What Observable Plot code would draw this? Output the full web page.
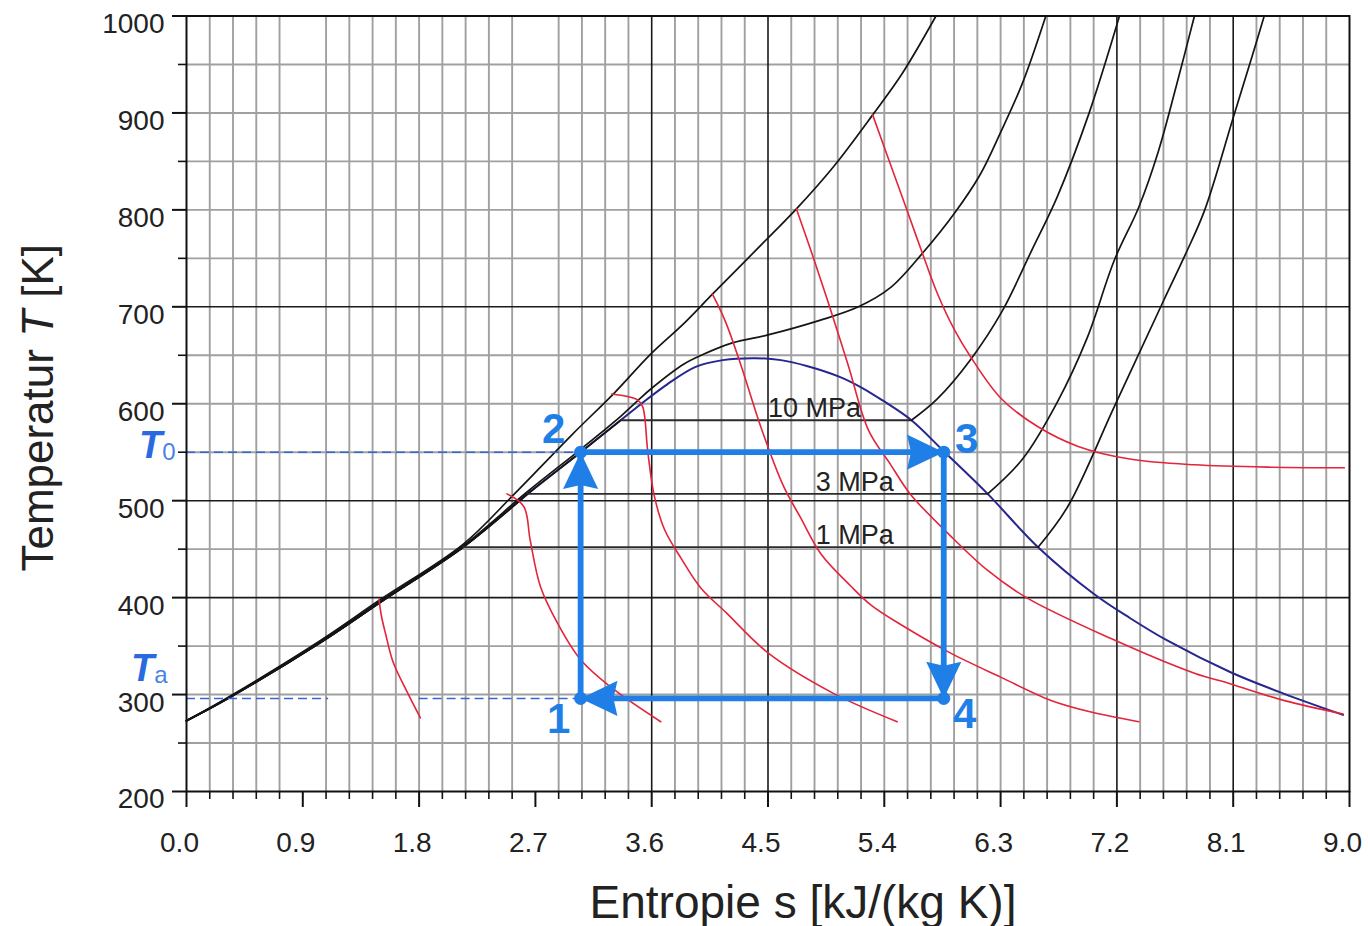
<!DOCTYPE html>
<html>
<head>
<meta charset="utf-8">
<script src="https://cdn.jsdelivr.net/npm/d3@7"></script>
<script src="https://cdn.jsdelivr.net/npm/@observablehq/plot@0.6"></script>
<style>
  html, body { margin: 0; padding: 0; background: #fff; }
  #chart { width: 1368px; height: 926px; }
</style>
</head>
<body>
<div id="chart"></div>
<script>
// T-s diagram of water with a rectangular cycle 1-2-3-4.
// All curve points are [s in kJ/(kg K), T in K].

// Saturation dome
const satLiquid = [[0,273],[0.32,296],[1.04,354],[1.52,397],[2.14,452],[2.64,507],[3.05,550],[3.36,583],[3.52,600],[3.72,620],[3.94,638],[4.15,645],[4.4,647]];
const satVapor = [[4.4,647],[4.6,645],[4.8,639],[5.05,628],[5.22,617],[5.38,604],[5.61,583],[5.86,551],[6.2,507],[6.59,452],[7.02,404],[7.3,379],[7.6,355],[8.08,323],[8.49,301],[8.95,279]];

// Supercritical isobars
const isobarHigh = [[0,273],[0.32,297],[1.04,356],[1.5,398],[2.14,455],[2.53,506],[2.99,569],[3.31,611],[3.59,651],[3.85,683],[4.07,713],[4.5,771],[4.72,801],[5.01,845],[5.31,898],[5.54,941],[5.8,1000]];
const isobarSuper = [[0,273],[0.32,296.5],[1.04,355],[1.52,398],[2.14,453.5],[2.64,509.5],[3.05,553],[3.36,587],[3.49,603],[3.6,616],[3.85,641],[4.0,651],[4.23,663],[4.5,671],[4.9,686],[5.2,700],[5.45,720],[5.7,756],[5.94,796],[6.14,836],[6.3,880],[6.47,931],[6.65,1000]];

// Subcritical isobars: label, saturation temperature, liquid / vapour entropy
const isobarNames = ["10 MPa", "3 MPa", "1 MPa"];
const isobarTsat = [583, 507, 452];
const isobarSliq = [3.36, 2.64, 2.14];
const isobarSvap = [5.61, 6.2, 6.59];
const isobarLabelS = [4.5, 4.87, 4.87];
// Superheated branches of the subcritical isobars
const superheated10 = [[5.61,583],[5.81,605],[6.07,646],[6.31,695],[6.54,758],[6.74,814],[6.98,898],[7.22,1000]];
const superheated3 = [[6.2,507],[6.47,543],[6.74,602],[6.97,668],[7.18,748],[7.37,803],[7.52,860],[7.66,928],[7.8,1000]];
const superheated1 = [[6.59,452],[6.82,494],[7.18,597],[7.56,706],[7.73,754],[7.88,800],[8.1,895],[8.25,960],[8.34,1000]];

// Red property lines, each starting on the highest isobar
const redLine1 = [[1.49,398],[1.51,380],[1.54,363],[1.6,333],[1.71,302],[1.81,276]];
const redLine2 = [[2.48,507],[2.61,494],[2.66,459],[2.74,411],[2.87,374],[3.05,336],[3.31,305],[3.67,272]];
const redLine3 = [[3.29,610],[3.49,604],[3.53,597],[3.57,550],[3.62,505],[3.7,470],[3.83,440],[3.98,410],[4.18,384],[4.5,343],[5.01,301],[5.5,272]];
const redLine4 = [[4.07,713],[4.17,685],[4.29,640],[4.45,574],[4.62,515],[4.75,483],[4.91,445],[5.14,412],[5.3,392],[5.53,372],[5.91,343],[6.3,318],[6.69,294],[7.0,282],[7.37,272]];
const redLine5 = [[4.72,801],[4.84,755],[4.96,707],[5.12,640],[5.28,572],[5.45,537],[5.6,507],[5.91,464],[6.2,428],[6.5,400],[7.15,358],[7.8,322],[8.08,311],[8.49,294],[8.95,280]];
const redLine6 = [[5.31,898],[5.45,846],[5.58,798],[5.69,757],[5.81,714],[5.94,677],[6.07,648],[6.3,606],[6.58,577],[6.9,556],[7.3,543],[7.8,537],[8.4,534.5],[8.96,534]];

// Cycle
const T0 = 550;
const Ta = 296;
const cycleLabels = ["1", "2", "3", "4"];
const cycleS = [3.05, 3.05, 5.86, 5.86];
const cycleT = [Ta, T0, T0, Ta];
const taDashSegments = [[0, 1.1], [1.8, 3.05]];

// Axes and grid
const sTickLabels = d3.range(0, 11).map(i => +(i * 0.9).toFixed(1));
const sMinorTicks = d3.range(0, 51).map(i => +(i * 0.18).toFixed(2));
const sGridDark = [3.6, 4.5, 7.2, 8.1];
const sGridOmitted = [0.9, 2.7];
const tTickLabels = d3.range(200, 1001, 100);
const tMinorTicks = d3.range(250, 1000, 100);
const tGridDark = [400, 500, 700];

const FONT = "'Liberation Sans', Arial, Helvetica, sans-serif";
const BLUE = "#1f7fe6";
const DASH = "#3565d6";
const NAVY = "#26268f";
const RED = "#e3243a";
const INK = "#151515";

const pts = arr => arr.map(([s, T]) => ({s, T}));
const curve = (arr, stroke, strokeWidth = 1.7) =>
  Plot.line(pts(arr), {x: "s", y: "T", curve: "catmull-rom", stroke, strokeWidth, strokeLinejoin: "round"});

const cycle = cycleLabels.map((label, i) => ({label, s: cycleS[i], T: cycleT[i]}));
const legs = cycle.map((p, i) => ({from: p, to: cycle[(i + 1) % cycle.length]}));

// Filled arrowhead whose tip sits on the dot position, pointing along `angle`
function arrowHead(angle) {
  const c = Math.cos(angle), n = Math.sin(angle);
  const rot = (a, b) => [a * c - b * n, a * n + b * c];
  return {
    draw(ctx, size) {
      const r = Math.sqrt(size / Math.PI);
      const L = 4.6 * r, Wd = 2.2 * r, N = 4.1 * r;
      ctx.moveTo(0, 0);
      ctx.lineTo(...rot(-L, Wd));
      ctx.lineTo(...rot(-N, 0));
      ctx.lineTo(...rot(-L, -Wd));
      ctx.closePath();
    }
  };
}

const subcritical = isobarNames.map((name, i) => ({
  name, T: isobarTsat[i], s1: isobarSliq[i], s2: isobarSvap[i], sLabel: isobarLabelS[i]
}));
const liquidBranch = Tsat => satLiquid.filter(([, T]) => T <= Tsat);

const marks = [
  // grid
  Plot.ruleX(sMinorTicks.filter(s => s > 0 && s < 9 && !sGridDark.includes(s) && !sGridOmitted.includes(s)), {stroke: "#a0a0a0", strokeWidth: 1.9}),
  Plot.ruleY(d3.range(250, 1000, 50).filter(t => !tGridDark.includes(t)), {stroke: "#a0a0a0", strokeWidth: 1.9}),
  Plot.ruleX(sGridDark, {stroke: "#1a1a1a", strokeWidth: 1.6}),
  Plot.ruleY(tGridDark, {stroke: "#1a1a1a", strokeWidth: 1.6}),

  // saturation dome
  curve(satLiquid.concat(satVapor.slice(1)), NAVY, 2),

  // isobars
  curve(isobarHigh, INK),
  curve(isobarSuper, INK),
  ...subcritical.map(d => curve(liquidBranch(d.T), INK)),
  Plot.ruleY(subcritical, {y: "T", x1: "s1", x2: "s2", stroke: "#2b2b2b", strokeWidth: 1.8}),
  curve(superheated10, INK),
  curve(superheated3, INK),
  curve(superheated1, INK),
  Plot.text(subcritical, {x: "sLabel", y: "T", text: "name", textAnchor: "start", lineAnchor: "bottom", dy: -3, fontSize: 27, fill: "#222"}),

  // red property lines
  ...[redLine1, redLine2, redLine3, redLine4, redLine5, redLine6].map(r => curve(r, RED, 1.6)),

  // reference temperatures
  Plot.ruleY([T0], {x1: 0, x2: cycleS[1], stroke: DASH, strokeWidth: 1.6, strokeDasharray: "9,5"}),
  Plot.ruleY(taDashSegments, {y: () => Ta, x1: d => d[0], x2: d => d[1], stroke: DASH, strokeWidth: 1.6, strokeDasharray: "9,5"}),
  Plot.text(["T0"], {x: () => 0, y: () => T0, text: d => d, textAnchor: "end", lineAnchor: "bottom", dx: -11, dy: 6, fill: "#2a6ae0", fontSize: 38}),
  Plot.text(["Ta"], {x: () => 0, y: () => Ta, text: d => d, textAnchor: "end", lineAnchor: "bottom", dx: -19, dy: -17, fill: "#2a6ae0", fontSize: 38}),

  // cycle
  Plot.line(cycle.concat([cycle[0]]), {x: "s", y: "T", stroke: BLUE, strokeWidth: 5.8, strokeLinejoin: "miter"}),
  ...legs.map(l => Plot.dot([l.to], {
    x: "s", y: "T", r: 8, fill: BLUE,
    symbol: arrowHead(Math.atan2(-(l.to.T - l.from.T), l.to.s - l.from.s))
  })),
  Plot.dot(cycle, {x: "s", y: "T", r: 6.5, fill: BLUE}),
  Plot.text([cycle[0]], {x: "s", y: "T", text: "label", dx: -22, dy: 35, lineAnchor: "bottom", fontSize: 42, fontWeight: "bold", fill: BLUE}),
  Plot.text([cycle[1]], {x: "s", y: "T", text: "label", dx: -27, dy: -9, lineAnchor: "bottom", fontSize: 42, fontWeight: "bold", fill: BLUE}),
  Plot.text([cycle[2]], {x: "s", y: "T", text: "label", dx: 23, dy: 1, lineAnchor: "bottom", fontSize: 42, fontWeight: "bold", fill: BLUE}),
  Plot.text([cycle[3]], {x: "s", y: "T", text: "label", dx: 21, dy: 30, lineAnchor: "bottom", fontSize: 42, fontWeight: "bold", fill: BLUE}),

  // frame and axes
  Plot.frame({stroke: "#111", strokeWidth: 2}),
  Plot.axisY({ticks: tTickLabels, tickSize: 14, fill: "none", stroke: "#111", strokeWidth: 2, label: null}),
  Plot.axisY({ticks: tMinorTicks, tickSize: 8, fill: "none", stroke: "#111", strokeWidth: 1.6, label: null}),
  Plot.axisY({ticks: tTickLabels, tickSize: 0, tickPadding: 22, dy: 8, tickFormat: "d", fontSize: 28, fill: "#222", label: null}),
  Plot.axisX({ticks: sTickLabels, tickSize: 16, fill: "none", stroke: "#111", strokeWidth: 2, label: null}),
  Plot.axisX({ticks: sMinorTicks.filter(s => !sTickLabels.includes(s)), tickSize: 8, fill: "none", stroke: "#111", strokeWidth: 1.6, label: null}),
  Plot.axisX({ticks: sTickLabels, tickSize: 0, tickPadding: 41, dx: -7, tickFormat: ".1f", fontSize: 28, fill: "#222", label: null}),

  // axis titles
  Plot.text(["Temperatur T [K]"], {frameAnchor: "left", text: d => d, rotate: -90, textAnchor: "middle", lineAnchor: "bottom", dx: -134, dy: 4, fontSize: 44, fill: "#222"}),
  Plot.text(["Entropie s [kJ/(kg K)]"], {frameAnchor: "bottom", text: d => d, textAnchor: "middle", lineAnchor: "bottom", dx: 35, dy: 126, fontSize: 46, fill: "#222"})
];

const svg = Plot.plot({
  width: 1368,
  height: 926,
  marginLeft: 186,
  marginRight: 19,
  marginTop: 15.5,
  marginBottom: 135,
  x: {domain: [0, 9], label: null},
  y: {domain: [200, 1000], label: null},
  style: {fontFamily: FONT, fontSize: "28px", color: "#222", background: "#fff", overflow: "visible"},
  marks
});

// Italic symbols and subscripts inside text labels
d3.select(svg).selectAll("text").each(function () {
  const el = d3.select(this);
  const t = this.textContent;
  if (t === "T0" || t === "Ta") {
    el.text(null).style("white-space", "pre");
    el.append("tspan").attr("font-style", "italic").attr("font-weight", "bold").text("T");
    el.append("tspan").attr("font-size", 24).attr("dy", 2).attr("fill", "#4b82e6").text(t.slice(1));
  } else if (t === "Temperatur T [K]") {
    el.text(null).style("white-space", "pre");
    el.append("tspan").text("Temperatur ");
    el.append("tspan").attr("font-style", "italic").text("T");
    el.append("tspan").text(" [K]");
  }
});

document.getElementById("chart").appendChild(svg);
</script>
</body>
</html>
